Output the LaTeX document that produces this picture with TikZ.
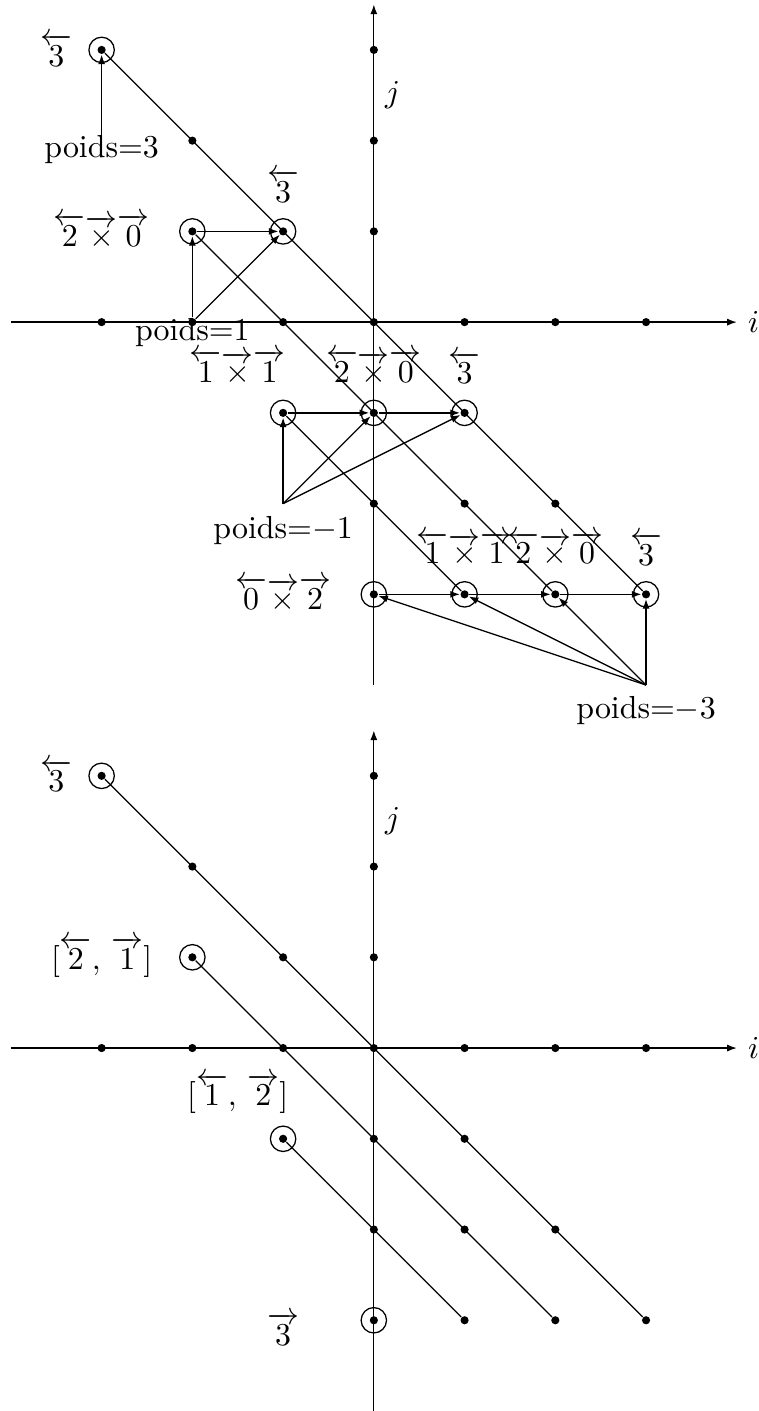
\documentclass[tikz,border=0pt]{standalone}
\usepackage{amsmath,amssymb}
\usetikzlibrary{arrows.meta,positioning}

\newcommand{\lrprod}[2]{\overleftarrow{#1}\overrightarrow{\times}\overrightarrow{#2}}

\begin{document}
\begin{tikzpicture}[
    pt/.style={
        circle,
        fill,
        inner sep=0pt,
        minimum size=0.9mm
    },
    ring/.style={radius=1.4mm},
    axe/.style={-{Latex[length=3pt,width=2.2pt]}},
    arr/.style={-{Latex[length=3pt,width=2.2pt]}}
]
    \useasboundingbox (-4.12,-12) rectangle (4.24,3.55);

    %% ---------- Diagramme du haut ----------
    %% Axes
    \draw[axe] (-4,0) -- (4,0) node[right] (hi) {$i$};
    \draw[axe] (0,-4) -- (0,3.5);
    \draw (0,3) -- (0,2.5) node[right] (hj) {$j$};

    %% Points
    \node[pt] (hm3p0) at (-3,0) {};
    \node[pt] (hm2p0) at (-2,0) {};
    \node[pt] (hm1p0) at (-1,0) {};
    \node[pt] (hp0p0) at (0,0) {};
    \node[pt] (hp1p0) at (1,0) {};
    \node[pt] (hp2p0) at (2,0) {};
    \node[pt] (hp3p0) at (3,0) {};
    \node[pt] (hp0p3) at (0,3) {};
    \node[pt] (hp0p2) at (0,2) {};
    \node[pt] (hp0p1) at (0,1) {};
    \node[pt] (hp0m2) at (0,-2) {};
    \node[pt] (hm2p2) at (-2,2) {};
    \node[pt] (hp1m2) at (1,-2) {};
    \node[pt] (hp2m2) at (2,-2) {};
    %% Points entoures
    \node[pt] (hm3p3) at (-3,3) {};
    \node[pt] (hm2p1) at (-2,1) {};
    \node[pt] (hm1p1) at (-1,1) {};
    \node[pt] (hm1m1) at (-1,-1) {};
    \node[pt] (hp0m1) at (0,-1) {};
    \node[pt] (hp1m1) at (1,-1) {};
    \node[pt] (hp0m3) at (0,-3) {};
    \node[pt] (hp1m3) at (1,-3) {};
    \node[pt] (hp2m3) at (2,-3) {};
    \node[pt] (hp3m3) at (3,-3) {};
    \draw (hm3p3) circle[ring] (hm2p1) circle[ring] (hm1p1) circle[ring]
        (hm1m1) circle[ring] (hp0m1) circle[ring] (hp1m1) circle[ring]
        (hp0m3) circle[ring] (hp1m3) circle[ring] (hp2m3) circle[ring]
        (hp3m3) circle[ring];

    %% Diagonales
    \draw (hm3p3) -- (hp3m3);
    \draw (hm2p1) -- (hp2m3);
    \draw (hm1m1) -- (hp1m3);

    %% Etiquettes
    \node (hl3a) at (-3.5,3) {$\overleftarrow{3}$};
    \node (hl3b) at (-1,1.5) {$\overleftarrow{3}$};
    \node (hl20a) at (-3,1) {$\lrprod{2}{0}$};
    \node (hl11a) at (-1.5,-0.5) {$\lrprod{1}{1}$};
    \node (hl20b) at (0,-0.5) {$\lrprod{2}{0}$};
    \node (hl3c) at (1,-0.5) {$\overleftarrow{3}$};
    \node (hl02) at (-1,-3) {$\lrprod{0}{2}$};
    \node (hl11b) at (1,-2.5) {$\lrprod{1}{1}$};
    \node (hl20c) at (2,-2.5) {$\lrprod{2}{0}$};
    \node (hl3d) at (3,-2.5) {$\overleftarrow{3}$};

    %% Poids
    \node (hpd3) at (-3,1.9) {poids=3};
    \node (hpd1) at (-2,-0.12) {poids=1};
    \node (hpdm1) at (-1,-2.3) {poids=$-1$};
    \node (hpdm3) at (3,-4.28) {poids=$-3$};
    \coordinate (hs3) at (-3,2.05);
    \coordinate (hsm1) at (-1,-2);
    \coordinate (hsm3) at (3,-4);

    %% Fleches
    \draw[arr] (hs3) -- (hm3p3);
    \draw[arr] (hm2p0) -- (hm2p1);
    \draw[arr] (hm2p0) -- (hm1p1);
    \draw[arr] (hm2p1) -- (hm1p1);
    \draw[arr] (hsm1) -- (hm1m1);
    \draw[arr] (hsm1) -- (hp0m1);
    \draw[arr] (hsm1) -- (hp1m1);
    \draw[arr] (hm1m1) -- (hp0m1);
    \draw[arr] (hp0m1) -- (hp1m1);
    \draw[arr] (hsm3) -- (hp3m3);
    \draw[arr] (hsm3) -- (hp2m3);
    \draw[arr] (hsm3) -- (hp1m3);
    \draw[arr] (hsm3) -- (hp0m3);
    \draw[arr] (hp0m3) -- (hp1m3);
    \draw[arr] (hp1m3) -- (hp2m3);
    \draw[arr] (hp2m3) -- (hp3m3);

    %% ---------- Diagramme du bas ----------
    \begin{scope}[yshift=-8cm]
    %% Axes
    \draw[axe] (-4,0) -- (4,0) node[right] (bi) {$i$};
    \draw[axe] (0,-4) -- (0,3.5);
    \draw (0,3) -- (0,2.5) node[right] (bj) {$j$};

    %% Points
    \node[pt] (bm3p0) at (-3,0) {};
    \node[pt] (bm2p0) at (-2,0) {};
    \node[pt] (bm1p0) at (-1,0) {};
    \node[pt] (bp0p0) at (0,0) {};
    \node[pt] (bp1p0) at (1,0) {};
    \node[pt] (bp2p0) at (2,0) {};
    \node[pt] (bp3p0) at (3,0) {};
    \node[pt] (bp0p3) at (0,3) {};
    \node[pt] (bp0p2) at (0,2) {};
    \node[pt] (bp0p1) at (0,1) {};
    \node[pt] (bp0m1) at (0,-1) {};
    \node[pt] (bp0m2) at (0,-2) {};
    \node[pt] (bm2p2) at (-2,2) {};
    \node[pt] (bm1p1) at (-1,1) {};
    \node[pt] (bp1m1) at (1,-1) {};
    \node[pt] (bp2m2) at (2,-2) {};
    \node[pt] (bp3m3) at (3,-3) {};
    \node[pt] (bp1m2) at (1,-2) {};
    \node[pt] (bp2m3) at (2,-3) {};
    \node[pt] (bp1m3) at (1,-3) {};
    %% Points entoures
    \node[pt] (bm3p3) at (-3,3) {};
    \node[pt] (bm2p1) at (-2,1) {};
    \node[pt] (bm1m1) at (-1,-1) {};
    \node[pt] (bp0m3) at (0,-3) {};
    \draw (bm3p3) circle[ring] (bm2p1) circle[ring] (bm1m1) circle[ring]
        (bp0m3) circle[ring];

    %% Diagonales
    \draw (bm3p3) -- (bp3m3);
    \draw (bm2p1) -- (bp2m3);
    \draw (bm1m1) -- (bp1m3);

    %% Etiquettes
    \node (bl3a) at (-3.5,3) {$\overleftarrow{3}$};
    \node (bl21) at (-3,1) {$[\overleftarrow{2},\,\overrightarrow{1}]$};
    \node (bl12) at (-1.5,-0.5) {$[\overleftarrow{1},\,\overrightarrow{2}]$};
    \node (bl3b) at (-1,-3.1) {$\overrightarrow{3}$};
    \end{scope}
\end{tikzpicture}
\end{document}
